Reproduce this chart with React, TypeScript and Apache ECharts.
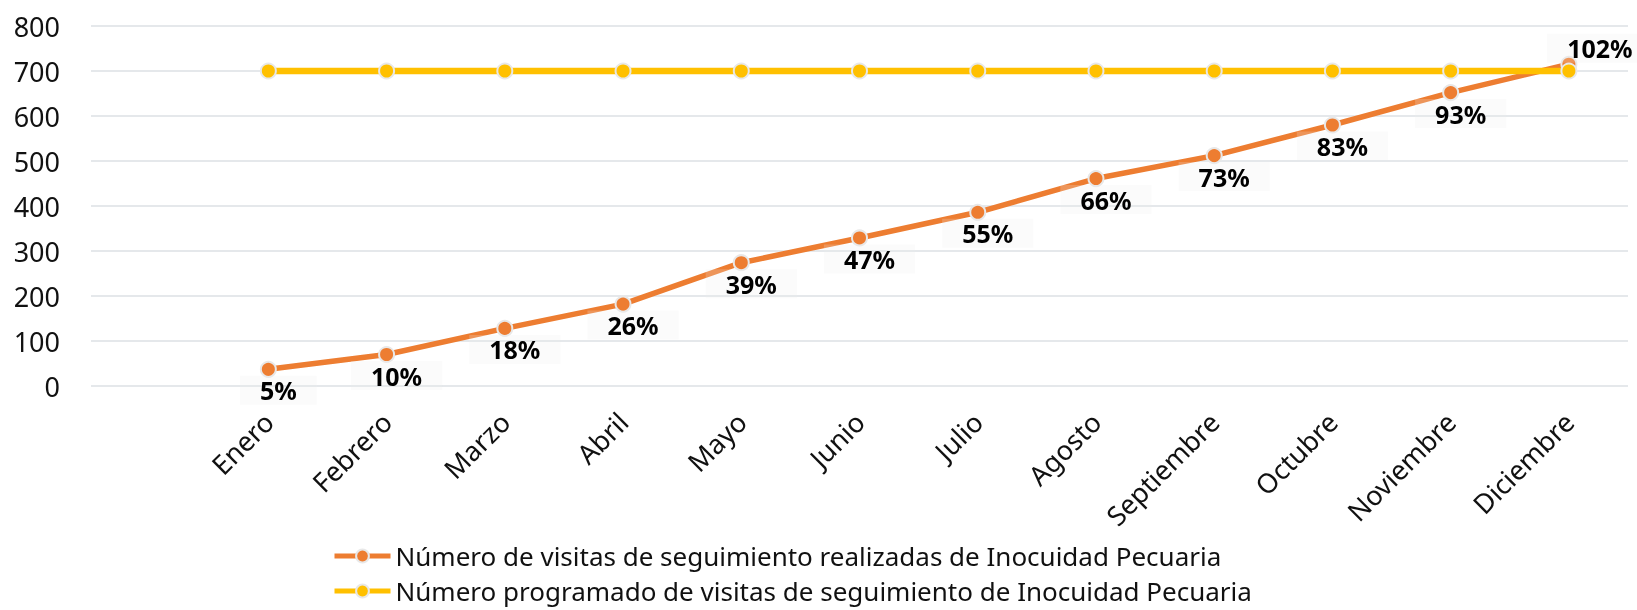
import React, { useEffect, useRef } from 'react';
import * as echarts from 'echarts';

const months = ['', 'Enero', 'Febrero', 'Marzo', 'Abril', 'Mayo', 'Junio', 'Julio', 'Agosto', 'Septiembre', 'Octubre', 'Noviembre', 'Diciembre'];
const realizadas = [null, 37, 70, 128, 182, 274, 329, 386, 461, 512, 580, 652, 715];
const programadas = [null, 700, 700, 700, 700, 700, 700, 700, 700, 700, 700, 700, 700];
const porcentajes = ['', '5%', '10%', '18%', '26%', '39%', '47%', '55%', '66%', '73%', '83%', '93%', '102%'];
const yMin = 0;
const yMax = 800;
const yStep = 100;
const nombreRealizadas = 'Número de visitas de seguimiento realizadas de Inocuidad Pecuaria';
const nombreProgramadas = 'Número programado de visitas de seguimiento de Inocuidad Pecuaria';

export default function App() {
  const ref = useRef<HTMLDivElement>(null);
  useEffect(() => {
    const chart = echarts.init(ref.current!, null, { renderer: 'svg' });
    const font = "'Noto Sans', sans-serif";
    const lastIdx = realizadas.length - 1;
    const labelBase = {
      show: true,
      position: 'inside',
      offset: [10, 21],
      fontFamily: font,
      fontWeight: 'bold',
      fontSize: 25,
      color: '#000',
      backgroundColor: 'rgba(238,238,238,0.22)',
      padding: [2, 20],
    };
    const legendBase = {
      orient: 'vertical',
      left: 332,
      padding: 0,
      itemWidth: 56,
      itemHeight: 16,
      lineStyle: { width: 5 },
      textStyle: { fontFamily: font, fontSize: 26, lineHeight: 30, color: '#111' },
    };
    chart.setOption({
      animation: false,
      grid: { left: 91, right: 9, top: 26, bottom: 224, containLabel: false },
      legend: [
        { ...legendBase, top: 541, data: [nombreRealizadas] },
        { ...legendBase, top: 576, data: [nombreProgramadas] },
      ],
      xAxis: {
        type: 'category',
        data: months,
        boundaryGap: true,
        axisLine: { show: false },
        axisTick: { show: false },
        splitLine: { show: false },
        axisLabel: { rotate: 45, margin: 31, interval: 0, fontFamily: font, fontSize: 27, color: '#111' },
      },
      yAxis: {
        type: 'value',
        min: yMin,
        max: yMax,
        interval: yStep,
        axisLine: { show: false },
        axisTick: { show: false },
        axisLabel: { margin: 31, fontFamily: font, fontSize: 27, color: '#111' },
        splitLine: { lineStyle: { color: '#DCE0E5', width: 1.5 } },
      },
      series: [
        {
          name: nombreRealizadas,
          type: 'line',
          showAllSymbol: true,
          symbol: 'circle',
          symbolSize: 15,
          lineStyle: { color: '#ED7D31', width: 5.5 },
          itemStyle: { color: '#ED7D31', borderColor: '#E8E8E8', borderWidth: 2 },
          data: realizadas.map((v, i) => ({
            value: v,
            label: {
              ...labelBase,
              formatter: porcentajes[i],
              ...(i === lastIdx ? { offset: [31, -16] } : {}),
            },
          })),
        },
        {
          name: nombreProgramadas,
          type: 'line',
          showAllSymbol: true,
          symbol: 'circle',
          symbolSize: 15,
          lineStyle: { color: '#FFC000', width: 6.5 },
          itemStyle: { color: '#FFC000', borderColor: '#E8E8E8', borderWidth: 2 },
          data: programadas,
        },
      ],
    });
    return () => chart.dispose();
  }, []);
  return <div ref={ref} style={{ position: 'fixed', left: 0, top: 0, width: 1637, height: 610 }} />;
}
